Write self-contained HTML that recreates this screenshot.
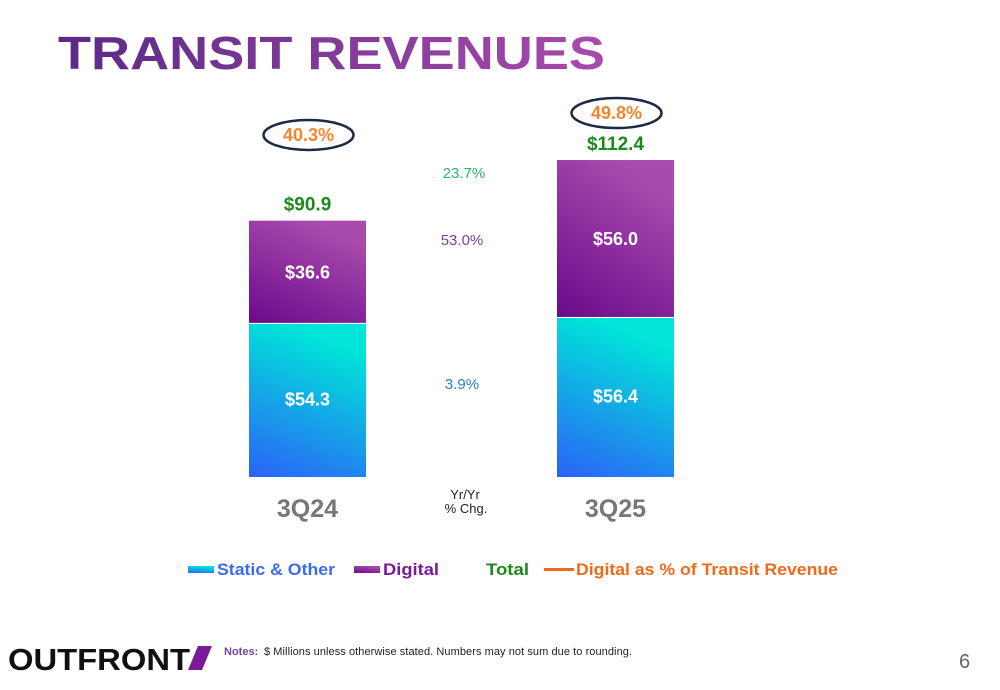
<!DOCTYPE html>
<html><head><meta charset="utf-8"><style>
body{margin:0;background:#fff;width:1000px;height:685px;overflow:hidden;font-family:"Liberation Sans",sans-serif}
</style></head><body>
<svg width="1000" height="685" id="chart">
<defs>
<linearGradient id="gS" x1="0" y1="1" x2="0.3" y2="0"><stop offset="0" stop-color="#2b62f7"/><stop offset="1" stop-color="#00e5d8"/></linearGradient>
<linearGradient id="gD" x1="0" y1="1" x2="0.5" y2="0"><stop offset="0" stop-color="#6a0a8c"/><stop offset="1" stop-color="#a94aad"/></linearGradient>
<linearGradient id="gT" x1="0" y1="0" x2="1" y2="0"><stop offset="0" stop-color="#5a2a86"/><stop offset="1" stop-color="#a94aad"/></linearGradient>
</defs>
<text x="58" y="69" font-size="46" font-weight="bold" fill="url(#gT)" textLength="547" lengthAdjust="spacingAndGlyphs">TRANSIT REVENUES</text>
<g id="bars"></g>
<text x="464" y="178" font-size="15" fill="#2bb56a" text-anchor="middle">23.7%</text>
<text x="462" y="245" font-size="15" fill="#7a3fa0" text-anchor="middle">53.0%</text>
<text x="462" y="389" font-size="15" fill="#2a7ad0" text-anchor="middle">3.9%</text>
<text x="465" y="499" font-size="13" fill="#222" text-anchor="middle">Yr/Yr</text>
<text x="466" y="513" font-size="13" fill="#222" text-anchor="middle">% Chg.</text>
<g font-size="17" font-weight="bold">
<rect x="188" y="566" width="26" height="7" fill="url(#gS)"/><text x="217" y="575" fill="#3b6cf0" textLength="118" lengthAdjust="spacingAndGlyphs">Static &amp; Other</text>
<rect x="354" y="566" width="26" height="7" fill="url(#gD)"/><text x="383" y="575" fill="#7a1a9a" textLength="56" lengthAdjust="spacingAndGlyphs">Digital</text>
<text x="486" y="575" fill="#1a8a1a" textLength="43" lengthAdjust="spacingAndGlyphs">Total</text>
<rect x="544" y="568" width="30" height="3" fill="#f06a1a"/><text x="576" y="575" fill="#f06a1a" textLength="262" lengthAdjust="spacingAndGlyphs">Digital as % of Transit Revenue</text>
</g>
<text x="8" y="670" font-size="31" font-weight="bold" fill="#111" textLength="182" lengthAdjust="spacingAndGlyphs">OUTFRONT</text>
<polygon points="198,646 212,646 202,670 188,670" fill="#7a1a9a"/>
<text x="224" y="655" font-size="11" font-weight="bold" fill="#7a3fa0">Notes:</text>
<text x="264" y="655" font-size="11" fill="#222" textLength="368">$ Millions unless otherwise stated. Numbers may not sum due to rounding.</text>
<text x="959" y="668" font-size="20" fill="#666">6</text>
</svg>
<script>
const categories=["3Q24","3Q25"];
const staticVals=[54.3,56.4];
const digitalVals=[36.6,56.0];
const totals=[90.9,112.4];
const digitalPct=["40.3%","49.8%"];
const NS="http://www.w3.org/2000/svg";
const g=document.getElementById("bars");
const base=477,scale=2.82,bw=117;
const xs=i=>249+i*308;
const y=v=>base-v*scale;
function mk(t,a,txt){const e=document.createElementNS(NS,t);for(const k in a)e.setAttribute(k,a[k]);if(txt!=null)e.textContent=txt;g.appendChild(e);return e;}
categories.forEach((c,i)=>{
 const x=xs(i),cx=x+bw/2;
 const sTop=y(staticVals[i]),dTop=y(staticVals[i]+digitalVals[i]);
 let r=mk("rect",{x:x,y:sTop,width:bw,height:base-sTop,fill:"url(#gS)"});
 
 
 r=mk("rect",{x:x,y:dTop,width:bw,height:sTop-dTop-1,fill:"url(#gD)"});
 
 
 let t=mk("text",{x:cx,y:(sTop+base)/2+5,"font-size":18,"font-weight":"bold",fill:"#fff","text-anchor":"middle"},"$"+staticVals[i].toFixed(1));
 
 
 t=mk("text",{x:cx,y:(sTop+dTop)/2+6,"font-size":18,"font-weight":"bold",fill:"#fff","text-anchor":"middle"},"$"+digitalVals[i].toFixed(1));
 
 
 t=mk("text",{x:cx,y:dTop-10,"font-size":19,"font-weight":"bold",fill:"#1a8a1a","text-anchor":"middle"},"$"+totals[i].toFixed(1));
 
 
 const ey=Math.min(135,dTop-47);
 const el=mk("ellipse",{cx:cx+1,cy:ey,rx:45,ry:15,fill:"none",stroke:"#1c2a44","stroke-width":2.5});
 
 
 t=mk("text",{x:cx+1,y:ey+6,"font-size":18,"font-weight":"bold",fill:"#f5852a","text-anchor":"middle"},digitalPct[i]);
 
 
 t=mk("text",{x:cx,y:517,"font-size":25,"font-weight":"bold",fill:"#777","text-anchor":"middle"},c);
 
 
});
</script>
</body></html>
